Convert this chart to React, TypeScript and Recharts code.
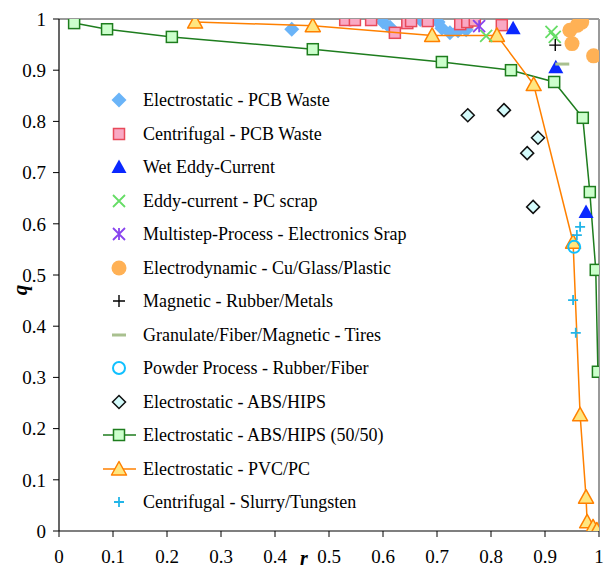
import React from "react";
import { ScatterChart, Scatter, XAxis, YAxis, ReferenceLine } from "recharts";

const FONT = "'Liberation Serif', 'Times New Roman', serif";

const axisTicks = [0, 0.1, 0.2, 0.3, 0.4, 0.5, 0.6, 0.7, 0.8, 0.9, 1];
const axisTickLabels = ["0", "0.1", "0.2", "0.3", "0.4", "0.5", "0.6", "0.7", "0.8", "0.9", "1"];

// r / q pairs
const pcbElectroR = [0.431, 0.6, 0.613, 0.669, 0.702, 0.709, 0.724, 0.739, 0.754];
const pcbElectroQ = [0.98, 0.994, 0.984, 0.999, 0.994, 0.982, 0.973, 0.977, 0.979];

const pcbCentriR = [0.53, 0.548, 0.578, 0.622, 0.645, 0.652, 0.683, 0.743, 0.756, 0.77, 0.82];
const pcbCentriQ = [0.998, 0.998, 0.998, 0.973, 0.992, 0.996, 0.996, 0.99, 0.994, 0.997, 0.988];

const wetEddyR = [0.841, 0.92, 0.976];
const wetEddyQ = [0.982, 0.906, 0.623];

const eddyPcR = [0.791, 0.912, 0.918];
const eddyPcQ = [0.967, 0.975, 0.965];

const multistepR = [0.778];
const multistepQ = [0.986];

const electrodynR = [0.946, 0.96, 0.968, 0.95, 0.99];
const electrodynQ = [0.978, 0.988, 0.994, 0.952, 0.928];

const magneticR = [0.919];
const magneticQ = [0.949];

const granulateR = [0.932];
const granulateQ = [0.912];

const powderR = [0.954];
const powderQ = [0.555];

const absHipsR = [0.757, 0.824, 0.887, 0.867, 0.878];
const absHipsQ = [0.812, 0.822, 0.768, 0.738, 0.633];

const abs5050R = [0.028, 0.089, 0.209, 0.47, 0.709, 0.837, 0.917, 0.97, 0.983, 0.994, 0.998];
const abs5050Q = [0.992, 0.98, 0.965, 0.941, 0.916, 0.9, 0.877, 0.807, 0.662, 0.51, 0.311];

const pvcR = [0.252, 0.47, 0.691, 0.811, 0.879, 0.952, 0.965, 0.976, 0.978, 0.989, 0.996];
const pvcQ = [0.994, 0.987, 0.968, 0.968, 0.872, 0.564, 0.227, 0.066, 0.018, 0.008, 0.002];

const slurryR = [0.965, 0.959, 0.952, 0.957];
const slurryQ = [0.594, 0.578, 0.451, 0.387];

const zip = (r: number[], q: number[]) => r.map((v, i) => ({ r: v, q: q[i] }));

type P = { cx?: number; cy?: number };

const diamond = (fill: string, stroke: string, sw: number, h: number) => (p: P) => {
  const { cx = 0, cy = 0 } = p;
  return <path d={`M${cx},${cy - h}L${cx + h},${cy}L${cx},${cy + h}L${cx - h},${cy}Z`} fill={fill} stroke={stroke} strokeWidth={sw} />;
};
const square = (fill: string, stroke: string, sw: number, h: number) => (p: P) => {
  const { cx = 0, cy = 0 } = p;
  return <rect x={cx - h} y={cy - h} width={2 * h} height={2 * h} fill={fill} stroke={stroke} strokeWidth={sw} />;
};
const triangle = (fill: string, stroke: string, sw: number, h: number) => (p: P) => {
  const { cx = 0, cy = 0 } = p;
  return <path d={`M${cx},${cy - h}L${cx + h},${cy + h * 0.8}L${cx - h},${cy + h * 0.8}Z`} fill={fill} stroke={stroke} strokeWidth={sw} strokeLinejoin="round" />;
};
const cross = (stroke: string, sw: number, h: number) => (p: P) => {
  const { cx = 0, cy = 0 } = p;
  return <path d={`M${cx - h},${cy - h}L${cx + h},${cy + h}M${cx + h},${cy - h}L${cx - h},${cy + h}`} stroke={stroke} strokeWidth={sw} fill="none" />;
};
const plus = (stroke: string, sw: number, h: number) => (p: P) => {
  const { cx = 0, cy = 0 } = p;
  return <path d={`M${cx - h},${cy}L${cx + h},${cy}M${cx},${cy - h}L${cx},${cy + h}`} stroke={stroke} strokeWidth={sw} fill="none" />;
};
const asterisk = (stroke: string, sw: number, h: number) => (p: P) => {
  const { cx = 0, cy = 0 } = p;
  return <path d={`M${cx - h},${cy - h}L${cx + h},${cy + h}M${cx + h},${cy - h}L${cx - h},${cy + h}M${cx},${cy - h}L${cx},${cy + h}`} stroke={stroke} strokeWidth={sw} fill="none" />;
};
const dot = (fill: string, stroke: string, sw: number, r: number) => (p: P) => {
  const { cx = 0, cy = 0 } = p;
  return <circle cx={cx} cy={cy} r={r} fill={fill} stroke={stroke} strokeWidth={sw} />;
};
const dash = (stroke: string, sw: number, h: number) => (p: P) => {
  const { cx = 0, cy = 0 } = p;
  return <path d={`M${cx - h},${cy}L${cx + h},${cy}`} stroke={stroke} strokeWidth={sw} />;
};

const series = [
  { name: "Electrostatic - PCB Waste", data: zip(pcbElectroR, pcbElectroQ), shape: diamond("#6ab4f8", "none", 0, 7.5) },
  { name: "Centrifugal - PCB Waste", data: zip(pcbCentriR, pcbCentriQ), shape: square("#f9a9c4", "#e84a5a", 1.5, 5.5) },
  { name: "Wet Eddy-Current", data: zip(wetEddyR, wetEddyQ), shape: triangle("#0a28ff", "none", 0, 7.5) },
  { name: "Eddy-current - PC scrap", data: zip(eddyPcR, eddyPcQ), shape: cross("#66dd66", 1.8, 6) },
  { name: "Multistep-Process - Electronics Srap", data: zip(multistepR, multistepQ), shape: asterisk("#8844ee", 1.8, 6) },
  { name: "Electrodynamic - Cu/Glass/Plastic", data: zip(electrodynR, electrodynQ), shape: dot("#ffb155", "none", 0, 7.5) },
  { name: "Magnetic - Rubber/Metals", data: zip(magneticR, magneticQ), shape: plus("#000", 1.4, 6) },
  { name: "Granulate/Fiber/Magnetic - Tires", data: zip(granulateR, granulateQ), shape: dash("#a9c08f", 3, 7) },
  { name: "Powder Process - Rubber/Fiber", data: zip(powderR, powderQ), shape: dot("none", "#10c0ff", 2, 6) },
  { name: "Electrostatic - ABS/HIPS", data: zip(absHipsR, absHipsQ), shape: diamond("#d4fbfb", "#111", 1.5, 6.5) },
  { name: "Electrostatic - ABS/HIPS (50/50)", data: zip(abs5050R, abs5050Q), shape: square("#ccffcc", "#1e7d1e", 1.5, 5.5), line: "#1e7d1e" },
  { name: "Electrostatic - PVC/PC", data: zip(pvcR, pvcQ), shape: triangle("#ffe680", "#ff8000", 1.5, 7.5), line: "#ff8000" },
  { name: "Centrifugal - Slurry/Tungsten", data: zip(slurryR, slurryQ), shape: plus("#22b5e8", 1.8, 5) },
];

const drawOrder = [0, 1, 9, 10, 11, 3, 4, 2, 5, 6, 7, 8, 12];

function ChartLegend() {
  return (
    <div style={{ position: "absolute", left: 0, top: 0, fontFamily: FONT, fontSize: 18, color: "#000" }}>
      {series.map((s, i) => {
        const cy = 100 + i * 33.5;
        return (
          <div key={s.name} style={{ position: "absolute", left: 100, top: cy - 11, height: 22, display: "flex", alignItems: "center", whiteSpace: "nowrap" }}>
            <svg width={40} height={22} style={{ display: "block" }}>
              {s.line && <line x1={3} x2={36} y1={11} y2={11} stroke={s.line} strokeWidth={1.5} />}
              {s.shape({ cx: 19, cy: 11 })}
            </svg>
            <span style={{ marginLeft: 3, lineHeight: "22px" }}>{s.name}</span>
          </div>
        );
      })}
    </div>
  );
}

export default function App() {
  const tickStyle = { fontSize: 19, fill: "#000", fontFamily: FONT };
  return (
    <div style={{ position: "absolute", left: 0, top: 0, width: 607, height: 571, background: "#fff" }}>
      <ScatterChart width={607} height={571} margin={{ top: 19, right: 8, bottom: 0, left: 0 }}>
        <ReferenceLine y={1} stroke="#9a9a9a" strokeWidth={2} />
        <ReferenceLine x={1} stroke="#9a9a9a" strokeWidth={2} />
        <XAxis
          type="number"
          dataKey="r"
          domain={[0, 1]}
          ticks={axisTicks}
          tickFormatter={(v: number) => axisTickLabels[axisTicks.indexOf(v)] ?? String(v)}
          height={40}
          tickSize={6}
          tickMargin={13}
          axisLine={{ stroke: "#000", strokeWidth: 1.2 }}
          tickLine={{ stroke: "#000" }}
          tick={tickStyle}
          interval={0}
          allowDataOverflow
          label={{
            content: () => (
              <text x={304} y={565} textAnchor="middle" fontFamily={FONT} fontSize={20} fontWeight="bold" fontStyle="italic" fill="#000">r</text>
            ),
          }}
        />
        <YAxis
          type="number"
          dataKey="q"
          domain={[0, 1]}
          ticks={axisTicks}
          tickFormatter={(v: number) => axisTickLabels[axisTicks.indexOf(v)] ?? String(v)}
          width={59}
          tickSize={6}
          tickMargin={7}
          axisLine={{ stroke: "#000", strokeWidth: 1.2 }}
          tickLine={{ stroke: "#000" }}
          tick={tickStyle}
          interval={0}
          allowDataOverflow
          label={{
            content: () => (
              <text x={27} y={290} transform="rotate(-90 27 290)" textAnchor="middle" fontFamily={FONT} fontSize={21} fontWeight="bold" fontStyle="italic" fill="#000">q</text>
            ),
          }}
        />
        {drawOrder.map((i) => {
          const s = series[i];
          return (
            <Scatter
              key={s.name}
              name={s.name}
              data={s.data}
              shape={s.shape}
              line={s.line ? { stroke: s.line, strokeWidth: 1.5 } : false}
              lineType="joint"
              isAnimationActive={false}
            />
          );
        })}
      </ScatterChart>
      <ChartLegend />
    </div>
  );
}
